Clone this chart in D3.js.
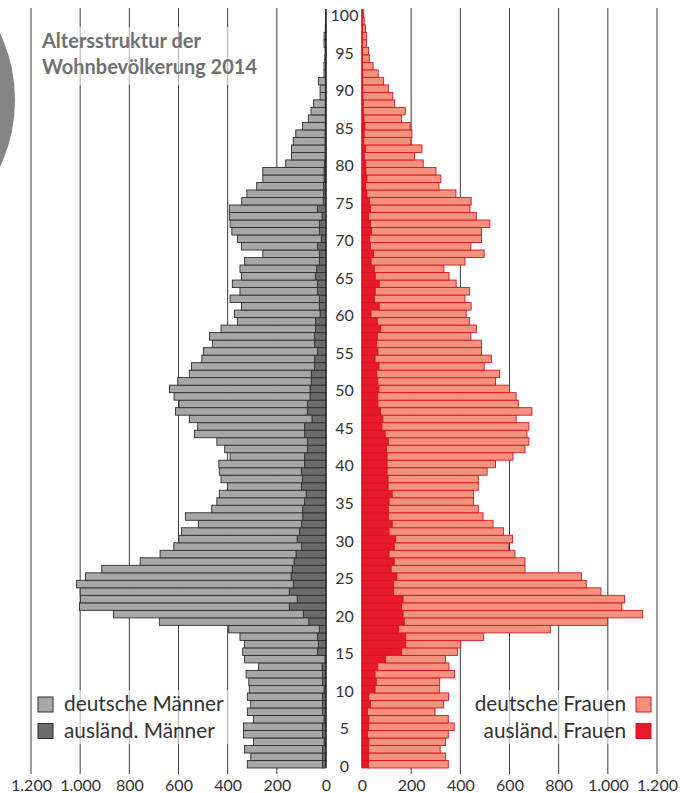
<!DOCTYPE html>
<html>
<head>
<meta charset="utf-8">
<script src="https://cdn.jsdelivr.net/npm/d3@7"></script>
<style>
  body { margin: 0; background: #fff; }
  svg { display: block; font-family: Lato, "Open Sans", sans-serif; }
</style>
</head>
<body>
<div id="chart"></div>
<script>
// Altersstruktur der Wohnbevölkerung 2014 - Bevölkerungspyramide
// Werte, Index = Alter (0 bis 100)

const ages = d3.range(0, 101);

const maennerAuslaend = [
  14, 14, 14, 8, 14, 14, 8, 14, 14, 14,
  8, 14, 14, 16, 4, 35, 31, 35, 27, 70,
  92, 149, 117, 149, 133, 142, 137, 130, 122, 100,
  117, 108, 100, 95, 95, 87, 81, 100, 96, 100,
  87, 87, 76, 76, 87, 87, 57, 76, 76, 65,
  65, 60, 60, 47, 47, 35, 47, 47, 43, 43,
  24, 27, 27, 35, 35, 43, 38, 27, 27, 35,
  19, 27, 27, 16, 35, 11, 10, 10, 8, 8,
  6, 4, 4, 4, 4, 3, 3, 3, 3, 3,
  3, 3, 2, 2, 1, 1, 1, 1, 1, 0,
  0
];

const maennerDeutsch = [
  306, 292, 317, 287, 322, 322, 287, 306, 292, 306,
  304, 300, 311, 258, 327, 304, 300, 315, 369, 608,
  773, 854, 882, 851, 882, 836, 775, 626, 553, 519,
  482, 480, 419, 477, 370, 357, 353, 301, 331, 334,
  349, 303, 336, 368, 448, 435, 499, 536, 522, 553,
  572, 543, 496, 500, 458, 464, 415, 427, 384, 317,
  349, 317, 363, 315, 346, 301, 312, 304, 230, 309,
  341, 356, 363, 377, 358, 332, 312, 272, 249, 249,
  158, 136, 136, 129, 119, 92, 69, 58, 48, 21,
  21, 28, 6, 6, 4, 3, 7, 7, 2, 2,
  2
];

const frauenAuslaend = [
  27, 27, 27, 28, 22, 27, 28, 22, 34, 28,
  53, 58, 53, 64, 95, 161, 178, 178, 148, 172,
  167, 161, 167, 129, 129, 142, 119, 131, 110, 131,
  137, 110, 123, 107, 107, 110, 123, 106, 106, 102,
  102, 102, 99, 107, 94, 81, 85, 75, 65, 64,
  69, 64, 60, 69, 53, 65, 60, 62, 76, 62,
  37, 70, 50, 54, 70, 54, 50, 37, 47, 34,
  31, 39, 34, 27, 34, 31, 20, 14, 20, 16,
  16, 9, 14, 7, 9, 12, 8, 5, 5, 4,
  3, 3, 3, 2, 2, 2, 1, 1, 1, 1,
  1
];

const frauenDeutsch = [
  324, 313, 291, 312, 329, 348, 323, 275, 298, 324,
  263, 258, 324, 290, 245, 228, 224, 317, 618, 827,
  975, 896, 901, 843, 783, 751, 544, 532, 512, 464,
  475, 466, 410, 385, 366, 344, 331, 367, 367, 407,
  441, 512, 564, 572, 577, 598, 542, 616, 571, 563,
  531, 479, 500, 428, 473, 421, 426, 381, 389, 376,
  387, 374, 369, 384, 313, 300, 283, 382, 450, 409,
  455, 447, 486, 438, 405, 413, 362, 299, 301, 285,
  233, 205, 230, 192, 194, 184, 153, 171, 128, 121,
  104, 85, 63, 43, 28, 25, 17, 17, 13, 8,
  6
];

const xTicks = [0, 200, 400, 600, 800, 1000, 1200];
const ageLabels = [0, 5, 10, 15, 20, 25, 30, 35, 40, 45, 50, 55, 60, 65, 70, 75, 80, 85, 90, 95, 100];

const legendMaenner = ["deutsche Männer", "ausländ. Männer"];
const legendFrauen = ["deutsche Frauen", "ausländ. Frauen"];

// Farben
const colDeuM = "#a7a7a7", colAusM = "#6b6b6b", strokeM = "#2e2e2e";
const colDeuF = "#f4937d", colAusF = "#e8192c", strokeF = "#d8121f";

const width = 680, height = 793;

const svg = d3.select("#chart").append("svg")
  .attr("width", width)
  .attr("height", height);

// Skalen
const xLeft = d3.scaleLinear().domain([0, 1200]).range([326, 31]);
const xRight = d3.scaleLinear().domain([0, 1200]).range([362, 657]);
const y = d3.scaleBand()
  .domain(ages.slice().reverse())
  .range([9.8, 768])
  .padding(0);

const fmt = d3.formatLocale({decimal: ",", thousands: ".", grouping: [3], currency: ["", "€"]}).format(",d");

// grauer Kreis am linken Rand
svg.append("circle")
  .attr("cx", -142)
  .attr("cy", 100)
  .attr("r", 157)
  .attr("fill", "#858585");

// Gitterlinien
const grid = svg.append("g");
xTicks.filter(d => d > 0).forEach(d => {
  grid.append("line")
    .attr("x1", xLeft(d)).attr("x2", xLeft(d))
    .attr("y1", 8).attr("y2", 774)
    .attr("stroke", "#3a3a3a").attr("stroke-width", 1);
  grid.append("line")
    .attr("x1", xRight(d)).attr("x2", xRight(d))
    .attr("y1", 8).attr("y2", 774)
    .attr("stroke", "#3a3a3a").attr("stroke-width", 1);
});

// Daten für Stapel
const rows = ages.map(a => ({
  age: a,
  mAus: maennerAuslaend[a], mDeu: maennerDeutsch[a],
  fAus: frauenAuslaend[a], fDeu: frauenDeutsch[a]
}));

const stackM = d3.stack().keys(["mAus", "mDeu"])(rows);
const stackF = d3.stack().keys(["fAus", "fDeu"])(rows);

// Männer
const menFill = {mAus: colAusM, mDeu: colDeuM};
svg.append("g")
  .selectAll("g")
  .data(stackM)
  .join("g")
  .attr("fill", d => menFill[d.key])
  .selectAll("rect")
  .data(d => d)
  .join("rect")
  .attr("x", d => xLeft(d[1]))
  .attr("y", d => y(d.data.age))
  .attr("width", d => Math.max(0, xLeft(d[0]) - xLeft(d[1])))
  .attr("height", y.bandwidth())
  .attr("stroke", strokeM)
  .attr("stroke-width", 0.9);

// Frauen
const womenFill = {fAus: colAusF, fDeu: colDeuF};
svg.append("g")
  .selectAll("g")
  .data(stackF)
  .join("g")
  .attr("fill", d => womenFill[d.key])
  .selectAll("rect")
  .data(d => d)
  .join("rect")
  .attr("x", d => xRight(d[0]))
  .attr("y", d => y(d.data.age))
  .attr("width", d => Math.max(0, xRight(d[1]) - xRight(d[0])))
  .attr("height", y.bandwidth())
  .attr("stroke", strokeF)
  .attr("stroke-width", 0.9);

// Mittelachsen
svg.append("line")
  .attr("x1", xLeft(0)).attr("x2", xLeft(0))
  .attr("y1", 9).attr("y2", 768)
  .attr("stroke", "#222").attr("stroke-width", 1.2);
svg.append("line")
  .attr("x1", xRight(0)).attr("x2", xRight(0))
  .attr("y1", 9).attr("y2", 768)
  .attr("stroke", strokeF).attr("stroke-width", 1.2);

// Altersbeschriftung in der Mitte
svg.append("g")
  .selectAll("text")
  .data(ageLabels)
  .join("text")
  .attr("x", 344.5)
  .attr("y", d => y(d) + y.bandwidth() / 2 + 1)
  .attr("text-anchor", "middle")
  .attr("dominant-baseline", "central")
  .style("font-size", "16px")
  .style("fill", "#333")
  .text(d => d);

// x-Achsen
const axisLeft = d3.axisBottom(xLeft).tickValues(xTicks).tickSize(0).tickFormat(fmt);
const axisRight = d3.axisBottom(xRight).tickValues(xTicks).tickSize(0).tickFormat(fmt);

[axisLeft, axisRight].forEach(ax => {
  const g = svg.append("g")
    .attr("transform", "translate(0, 774)")
    .call(ax);
  g.select(".domain").remove();
  g.selectAll("text")
    .attr("dy", "0.9em")
    .style("font-family", "Lato, sans-serif")
    .style("font-size", "16px")
    .style("fill", "#333");
});

// Titel mit halbtransparentem Hintergrund
svg.append("rect")
  .attr("x", 38).attr("y", 27)
  .attr("width", 226).attr("height", 58)
  .attr("fill", "#fff").attr("opacity", 0.6);

const title = svg.append("text")
  .attr("x", 42)
  .attr("y", 48)
  .style("font-size", "20px")
  .style("font-weight", "bold")
  .style("fill", "#707070");
title.append("tspan").attr("x", 42).text("Altersstruktur der");
title.append("tspan").attr("x", 42).attr("dy", 26).text("Wohnbevölkerung 2014");

// Legende links
svg.append("rect")
  .attr("x", 34).attr("y", 690)
  .attr("width", 196).attr("height", 54)
  .attr("fill", "#fff").attr("opacity", 0.6);

const legL = svg.append("g");
legendMaenner.forEach((label, i) => {
  legL.append("rect")
    .attr("x", 38).attr("y", 697 + i * 26.5)
    .attr("width", 15).attr("height", 15)
    .attr("fill", i === 0 ? colDeuM : colAusM)
    .attr("stroke", strokeM).attr("stroke-width", 1);
  legL.append("text")
    .attr("x", 64).attr("y", 711 + i * 26.5)
    .style("font-size", "20.8px")
    .style("fill", "#333")
    .text(label);
});

// Legende rechts
svg.append("rect")
  .attr("x", 472).attr("y", 690)
  .attr("width", 184).attr("height", 54)
  .attr("fill", "#fff").attr("opacity", 0.6);

const legR = svg.append("g");
legendFrauen.forEach((label, i) => {
  legR.append("rect")
    .attr("x", 636).attr("y", 697 + i * 26.5)
    .attr("width", 15).attr("height", 15)
    .attr("fill", i === 0 ? colDeuF : colAusF)
    .attr("stroke", strokeF).attr("stroke-width", 1);
  legR.append("text")
    .attr("x", 626).attr("y", 711 + i * 26.5)
    .attr("text-anchor", "end")
    .style("font-size", "20.8px")
    .style("fill", "#333")
    .text(label);
});
</script>
</body>
</html>
